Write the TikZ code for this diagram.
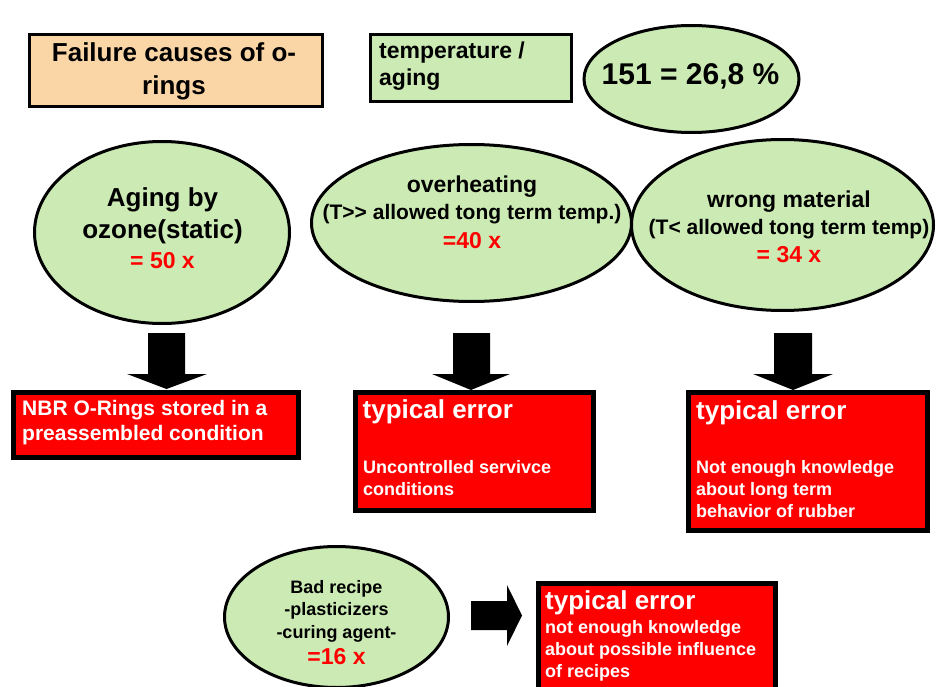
\documentclass[tikz,border=0pt]{standalone}
\usepackage{fontspec}
\setmainfont{Liberation Sans}
\usetikzlibrary{shapes.geometric}
\definecolor{lgreen}{HTML}{CCEBB4}
\definecolor{peach}{HTML}{FAD5A5}
\definecolor{rred}{HTML}{FF0000}
\newcommand\myfs[1]{\fontsize{#1}{#1}\selectfont}
\begin{document}
\begin{tikzpicture}[x=1pt,y=-1pt,
  oval/.style={ellipse, draw=black, line width=3pt, fill=lgreen, inner sep=0pt},
  tbox/.style={rectangle, draw=black, inner sep=0pt, anchor=north west},
  redbox/.style={tbox, fill=rred, line width=5pt},
  txt/.style={inner sep=0pt, anchor=base},
  ltxt/.style={inner sep=0pt, anchor=base west},
  wtxt/.style={ltxt, text=white},
  rtxt/.style={txt, text=rred},
  blockarrow/.style={fill=black, draw=none}
]
\useasboundingbox (0,0) rectangle (937,687);
\clip (0,0) rectangle (937,687);

% title boxes
\node[tbox, fill=peach, line width=3pt, minimum width=293pt, minimum height=72pt] (title) at (27.5,33.5) {};
\node[txt, font=\bfseries\myfs{26}] (title1) at (174,62) {Failure causes of o-};
\node[txt, font=\bfseries\myfs{26}] (title2) at (174,95) {rings};

\node[tbox, fill=lgreen, line width=3.5pt, minimum width=201pt, minimum height=67pt] (temp) at (368.75,32.75) {};
\node[ltxt, font=\bfseries\myfs{23}] (temp1) at (379,59) {temperature /};
\node[ltxt, font=\bfseries\myfs{23}] (temp2) at (379,86) {aging};

\node[oval, minimum width=215pt, minimum height=107pt] (total) at (691.5,79) {};
\node[txt, font=\bfseries\myfs{30}] (totalt) at (690.5,85) {151 = 26,8 \%};

% cause ellipses
\node[oval, minimum width=255pt, minimum height=182pt] (aging) at (162,232.5) {};
\node[txt, font=\bfseries\myfs{26}] (aging1) at (162.5,207) {Aging by};
\node[txt, font=\bfseries\myfs{26}] (aging2) at (162.5,238) {ozone(static)};
\node[rtxt, font=\bfseries\myfs{23}] (aging3) at (162.5,268) {= 50 x};

\node[oval, minimum width=320pt, minimum height=157pt] (over) at (471.5,223) {};
\node[txt, font=\bfseries\myfs{23}] (over1) at (472,193) {overheating};
\node[txt, font=\bfseries\myfs{21}] (over2) at (472,220) {(T>{}> allowed tong term temp.)};
\node[rtxt, font=\bfseries\myfs{23}] (over3) at (472,248) {=40 x};

\node[oval, minimum width=302pt, minimum height=171pt] (wrong) at (782.5,225) {};
\node[txt, font=\bfseries\myfs{23}] (wrong1) at (789,208) {wrong material};
\node[txt, font=\bfseries\myfs{21}] (wrong2) at (789,235) {(T< allowed tong term temp)};
\node[rtxt, font=\bfseries\myfs{23}] (wrong3) at (789,262) {= 34 x};

\node[oval, minimum width=224pt, minimum height=141pt] (bad) at (336.5,617) {};
\node[txt, font=\bfseries\myfs{18}] (bad1) at (336.5,593) {Bad recipe};
\node[txt, font=\bfseries\myfs{18}] (bad2) at (336.5,615) {-plasticizers};
\node[txt, font=\bfseries\myfs{18}] (bad3) at (336.5,638) {-curing agent-};
\node[rtxt, font=\bfseries\myfs{23}] (bad4) at (336.5,664) {=16 x};

% red boxes
\node[redbox, minimum width=285pt, minimum height=65pt] (nbr) at (10.5,389.5) {};
\node[wtxt, font=\bfseries\myfs{21}] (nbr1) at (22,415) {NBR O-Rings stored in a};
\node[wtxt, font=\bfseries\myfs{21}] (nbr2) at (22,440) {preassembled condition};

\node[redbox, minimum width=238pt, minimum height=118pt] (err1) at (352.5,389.5) {};
\node[wtxt, font=\bfseries\myfs{26}] (err1a) at (362.5,418) {typical error};
\node[wtxt, font=\bfseries\myfs{18}] (err1b) at (363,473) {Uncontrolled servivce};
\node[wtxt, font=\bfseries\myfs{18}] (err1c) at (363,495) {conditions};

\node[redbox, minimum width=239pt, minimum height=138pt] (err2) at (685.5,389.5) {};
\node[wtxt, font=\bfseries\myfs{26}] (err2a) at (696,419) {typical error};
\node[wtxt, font=\bfseries\myfs{18}] (err2b) at (696,473) {Not enough knowledge};
\node[wtxt, font=\bfseries\myfs{18}] (err2c) at (696,495.5) {about long term};
\node[wtxt, font=\bfseries\myfs{18}] (err2d) at (696,517.5) {behavior of rubber};

\node[redbox, minimum width=237pt, minimum height=130pt] (err3) at (535.5,580.5) {};
\node[wtxt, font=\bfseries\myfs{26}] (err3a) at (545,609) {typical error};
\node[wtxt, font=\bfseries\myfs{18}] (err3b) at (545,633) {not enough knowledge};
\node[wtxt, font=\bfseries\myfs{18}] (err3c) at (545,655) {about possible influence};
\node[wtxt, font=\bfseries\myfs{18}] (err3d) at (545,677) {of recipes};

% block arrows
\fill[blockarrow] (148,333) -- (185,333) -- (185,374) -- (207,374) -- (166.5,389) -- (127,374) -- (148,374) -- cycle;
\fill[blockarrow] (453,333) -- (490,333) -- (490,374) -- (510,374) -- (471,390) -- (432,374) -- (453,374) -- cycle;
\fill[blockarrow] (774,333) -- (812,333) -- (812,374) -- (833,374) -- (793,390) -- (753,374) -- (774,374) -- cycle;
\fill[blockarrow] (471,601) -- (507,601) -- (507,585) -- (522,615.5) -- (507,646) -- (507,630) -- (471,630) -- cycle;
\end{tikzpicture}
\end{document}
